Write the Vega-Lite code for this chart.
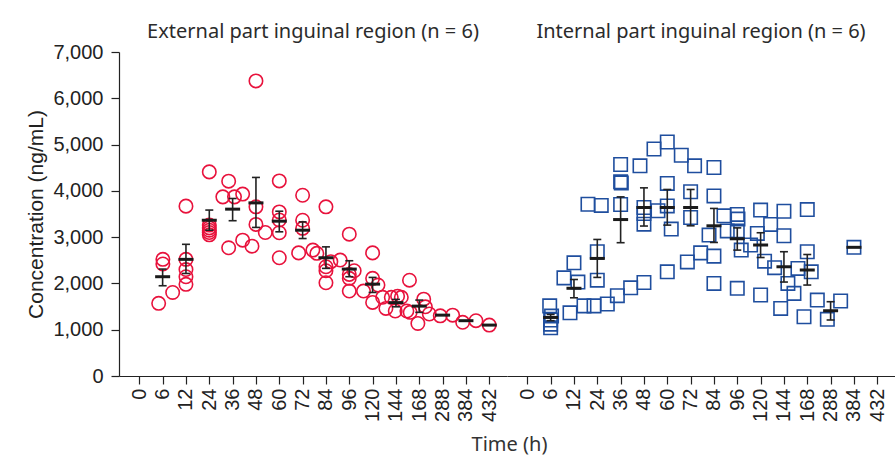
{
  "$schema": "https://vega.github.io/schema/vega-lite/v6.json",
  "padding": {"left": 25, "top": 22, "right": 0, "bottom": 0},
  "background": "white",
  "title": {"text": "Time (h)", "orient": "bottom", "anchor": "middle", "font": "Noto Sans", "fontSize": 20, "fontWeight": "normal", "color": "#333333", "offset": 14, "dx": 49},
  "data": {"values": [
    {"region": "External part inguinal region (n = 6)", "idx": 0.83, "conc": 1570},
    {"region": "External part inguinal region (n = 6)", "idx": 1.01, "conc": 2520},
    {"region": "External part inguinal region (n = 6)", "idx": 1.01, "conc": 2420},
    {"region": "External part inguinal region (n = 6)", "idx": 1.43, "conc": 1805},
    {"region": "External part inguinal region (n = 6)", "idx": 2.0, "conc": 3670},
    {"region": "External part inguinal region (n = 6)", "idx": 2.0, "conc": 2520},
    {"region": "External part inguinal region (n = 6)", "idx": 2.0, "conc": 2300},
    {"region": "External part inguinal region (n = 6)", "idx": 2.0, "conc": 2145},
    {"region": "External part inguinal region (n = 6)", "idx": 2.0, "conc": 1980},
    {"region": "External part inguinal region (n = 6)", "idx": 3.0, "conc": 4410},
    {"region": "External part inguinal region (n = 6)", "idx": 3.0, "conc": 3260},
    {"region": "External part inguinal region (n = 6)", "idx": 3.0, "conc": 3200},
    {"region": "External part inguinal region (n = 6)", "idx": 3.0, "conc": 3150},
    {"region": "External part inguinal region (n = 6)", "idx": 3.0, "conc": 3100},
    {"region": "External part inguinal region (n = 6)", "idx": 3.0, "conc": 3050},
    {"region": "External part inguinal region (n = 6)", "idx": 3.83, "conc": 4210},
    {"region": "External part inguinal region (n = 6)", "idx": 3.58, "conc": 3870},
    {"region": "External part inguinal region (n = 6)", "idx": 4.08, "conc": 3870},
    {"region": "External part inguinal region (n = 6)", "idx": 4.43, "conc": 3930},
    {"region": "External part inguinal region (n = 6)", "idx": 3.83, "conc": 2770},
    {"region": "External part inguinal region (n = 6)", "idx": 4.43, "conc": 2935},
    {"region": "External part inguinal region (n = 6)", "idx": 4.83, "conc": 2805},
    {"region": "External part inguinal region (n = 6)", "idx": 5.0, "conc": 6375},
    {"region": "External part inguinal region (n = 6)", "idx": 5.0, "conc": 3655},
    {"region": "External part inguinal region (n = 6)", "idx": 5.0, "conc": 3275},
    {"region": "External part inguinal region (n = 6)", "idx": 5.4, "conc": 3100},
    {"region": "External part inguinal region (n = 6)", "idx": 6.0, "conc": 4215},
    {"region": "External part inguinal region (n = 6)", "idx": 6.0, "conc": 3545},
    {"region": "External part inguinal region (n = 6)", "idx": 6.0, "conc": 3370},
    {"region": "External part inguinal region (n = 6)", "idx": 6.0, "conc": 3095},
    {"region": "External part inguinal region (n = 6)", "idx": 6.0, "conc": 2555},
    {"region": "External part inguinal region (n = 6)", "idx": 6.83, "conc": 2660},
    {"region": "External part inguinal region (n = 6)", "idx": 7.0, "conc": 3905},
    {"region": "External part inguinal region (n = 6)", "idx": 7.0, "conc": 3365},
    {"region": "External part inguinal region (n = 6)", "idx": 7.0, "conc": 3190},
    {"region": "External part inguinal region (n = 6)", "idx": 7.44, "conc": 2720},
    {"region": "External part inguinal region (n = 6)", "idx": 7.61, "conc": 2650},
    {"region": "External part inguinal region (n = 6)", "idx": 8.0, "conc": 3655},
    {"region": "External part inguinal region (n = 6)", "idx": 8.0, "conc": 2360},
    {"region": "External part inguinal region (n = 6)", "idx": 8.0, "conc": 2275},
    {"region": "External part inguinal region (n = 6)", "idx": 8.0, "conc": 2015},
    {"region": "External part inguinal region (n = 6)", "idx": 8.21, "conc": 2470},
    {"region": "External part inguinal region (n = 6)", "idx": 8.61, "conc": 2505},
    {"region": "External part inguinal region (n = 6)", "idx": 9.0, "conc": 3065},
    {"region": "External part inguinal region (n = 6)", "idx": 9.0, "conc": 2195},
    {"region": "External part inguinal region (n = 6)", "idx": 9.0, "conc": 2110},
    {"region": "External part inguinal region (n = 6)", "idx": 9.0, "conc": 1835},
    {"region": "External part inguinal region (n = 6)", "idx": 9.21, "conc": 2275},
    {"region": "External part inguinal region (n = 6)", "idx": 9.61, "conc": 1835},
    {"region": "External part inguinal region (n = 6)", "idx": 10.0, "conc": 2660},
    {"region": "External part inguinal region (n = 6)", "idx": 10.0, "conc": 2110},
    {"region": "External part inguinal region (n = 6)", "idx": 10.0, "conc": 1590},
    {"region": "External part inguinal region (n = 6)", "idx": 10.23, "conc": 1965},
    {"region": "External part inguinal region (n = 6)", "idx": 10.43, "conc": 1700},
    {"region": "External part inguinal region (n = 6)", "idx": 10.57, "conc": 1460},
    {"region": "External part inguinal region (n = 6)", "idx": 10.8, "conc": 1700},
    {"region": "External part inguinal region (n = 6)", "idx": 10.97, "conc": 1405},
    {"region": "External part inguinal region (n = 6)", "idx": 11.07, "conc": 1725},
    {"region": "External part inguinal region (n = 6)", "idx": 11.23, "conc": 1700},
    {"region": "External part inguinal region (n = 6)", "idx": 11.47, "conc": 1405},
    {"region": "External part inguinal region (n = 6)", "idx": 11.61, "conc": 1375},
    {"region": "External part inguinal region (n = 6)", "idx": 11.58, "conc": 2070},
    {"region": "External part inguinal region (n = 6)", "idx": 11.94, "conc": 1135},
    {"region": "External part inguinal region (n = 6)", "idx": 12.19, "conc": 1660},
    {"region": "External part inguinal region (n = 6)", "idx": 12.26, "conc": 1495},
    {"region": "External part inguinal region (n = 6)", "idx": 12.43, "conc": 1340},
    {"region": "External part inguinal region (n = 6)", "idx": 12.9, "conc": 1300},
    {"region": "External part inguinal region (n = 6)", "idx": 13.43, "conc": 1315},
    {"region": "External part inguinal region (n = 6)", "idx": 13.86, "conc": 1160},
    {"region": "External part inguinal region (n = 6)", "idx": 14.43, "conc": 1195},
    {"region": "External part inguinal region (n = 6)", "idx": 15.0, "conc": 1100},
    {"region": "Internal part inguinal region (n = 6)", "idx": 0.96, "conc": 1515},
    {"region": "Internal part inguinal region (n = 6)", "idx": 1.04, "conc": 1295},
    {"region": "Internal part inguinal region (n = 6)", "idx": 1.0, "conc": 1210},
    {"region": "Internal part inguinal region (n = 6)", "idx": 1.0, "conc": 1120},
    {"region": "Internal part inguinal region (n = 6)", "idx": 1.0, "conc": 1040},
    {"region": "Internal part inguinal region (n = 6)", "idx": 1.83, "conc": 1365},
    {"region": "Internal part inguinal region (n = 6)", "idx": 1.57, "conc": 2120},
    {"region": "Internal part inguinal region (n = 6)", "idx": 2.0, "conc": 2445},
    {"region": "Internal part inguinal region (n = 6)", "idx": 2.17, "conc": 2030},
    {"region": "Internal part inguinal region (n = 6)", "idx": 2.43, "conc": 1515},
    {"region": "Internal part inguinal region (n = 6)", "idx": 2.6, "conc": 3710},
    {"region": "Internal part inguinal region (n = 6)", "idx": 2.86, "conc": 1515},
    {"region": "Internal part inguinal region (n = 6)", "idx": 3.17, "conc": 3685},
    {"region": "Internal part inguinal region (n = 6)", "idx": 3.0, "conc": 2685},
    {"region": "Internal part inguinal region (n = 6)", "idx": 3.0, "conc": 2070},
    {"region": "Internal part inguinal region (n = 6)", "idx": 3.43, "conc": 1555},
    {"region": "Internal part inguinal region (n = 6)", "idx": 3.86, "conc": 1735},
    {"region": "Internal part inguinal region (n = 6)", "idx": 4.0, "conc": 4570},
    {"region": "Internal part inguinal region (n = 6)", "idx": 4.0, "conc": 4195},
    {"region": "Internal part inguinal region (n = 6)", "idx": 4.03, "conc": 4170},
    {"region": "Internal part inguinal region (n = 6)", "idx": 4.0, "conc": 3705},
    {"region": "Internal part inguinal region (n = 6)", "idx": 4.43, "conc": 1905},
    {"region": "Internal part inguinal region (n = 6)", "idx": 4.83, "conc": 4540},
    {"region": "Internal part inguinal region (n = 6)", "idx": 5.0, "conc": 3640},
    {"region": "Internal part inguinal region (n = 6)", "idx": 5.0, "conc": 3510},
    {"region": "Internal part inguinal region (n = 6)", "idx": 5.0, "conc": 3280},
    {"region": "Internal part inguinal region (n = 6)", "idx": 5.0, "conc": 2020},
    {"region": "Internal part inguinal region (n = 6)", "idx": 5.6, "conc": 3570},
    {"region": "Internal part inguinal region (n = 6)", "idx": 5.43, "conc": 4905},
    {"region": "Internal part inguinal region (n = 6)", "idx": 6.0, "conc": 5055},
    {"region": "Internal part inguinal region (n = 6)", "idx": 6.0, "conc": 4160},
    {"region": "Internal part inguinal region (n = 6)", "idx": 6.0, "conc": 3675},
    {"region": "Internal part inguinal region (n = 6)", "idx": 6.17, "conc": 3175},
    {"region": "Internal part inguinal region (n = 6)", "idx": 6.0, "conc": 2250},
    {"region": "Internal part inguinal region (n = 6)", "idx": 6.6, "conc": 4770},
    {"region": "Internal part inguinal region (n = 6)", "idx": 7.17, "conc": 4540},
    {"region": "Internal part inguinal region (n = 6)", "idx": 7.0, "conc": 3980},
    {"region": "Internal part inguinal region (n = 6)", "idx": 7.0, "conc": 3425},
    {"region": "Internal part inguinal region (n = 6)", "idx": 6.86, "conc": 2465},
    {"region": "Internal part inguinal region (n = 6)", "idx": 7.43, "conc": 2660},
    {"region": "Internal part inguinal region (n = 6)", "idx": 7.79, "conc": 3045},
    {"region": "Internal part inguinal region (n = 6)", "idx": 8.0, "conc": 4505},
    {"region": "Internal part inguinal region (n = 6)", "idx": 8.0, "conc": 3890},
    {"region": "Internal part inguinal region (n = 6)", "idx": 8.0, "conc": 2590},
    {"region": "Internal part inguinal region (n = 6)", "idx": 8.0, "conc": 2000},
    {"region": "Internal part inguinal region (n = 6)", "idx": 8.43, "conc": 3460},
    {"region": "Internal part inguinal region (n = 6)", "idx": 8.57, "conc": 3135},
    {"region": "Internal part inguinal region (n = 6)", "idx": 9.0, "conc": 3490},
    {"region": "Internal part inguinal region (n = 6)", "idx": 9.03, "conc": 3390},
    {"region": "Internal part inguinal region (n = 6)", "idx": 9.0, "conc": 3135},
    {"region": "Internal part inguinal region (n = 6)", "idx": 9.17, "conc": 2720},
    {"region": "Internal part inguinal region (n = 6)", "idx": 9.0, "conc": 1895},
    {"region": "Internal part inguinal region (n = 6)", "idx": 9.57, "conc": 2830},
    {"region": "Internal part inguinal region (n = 6)", "idx": 9.86, "conc": 3080},
    {"region": "Internal part inguinal region (n = 6)", "idx": 10.0, "conc": 3585},
    {"region": "Internal part inguinal region (n = 6)", "idx": 10.0, "conc": 1750},
    {"region": "Internal part inguinal region (n = 6)", "idx": 10.17, "conc": 2480},
    {"region": "Internal part inguinal region (n = 6)", "idx": 10.43, "conc": 3275},
    {"region": "Internal part inguinal region (n = 6)", "idx": 10.6, "conc": 2340},
    {"region": "Internal part inguinal region (n = 6)", "idx": 11.0, "conc": 3560},
    {"region": "Internal part inguinal region (n = 6)", "idx": 11.0, "conc": 3030},
    {"region": "Internal part inguinal region (n = 6)", "idx": 11.17, "conc": 2000},
    {"region": "Internal part inguinal region (n = 6)", "idx": 10.86, "conc": 1460},
    {"region": "Internal part inguinal region (n = 6)", "idx": 11.43, "conc": 1785},
    {"region": "Internal part inguinal region (n = 6)", "idx": 11.6, "conc": 2325},
    {"region": "Internal part inguinal region (n = 6)", "idx": 12.0, "conc": 3595},
    {"region": "Internal part inguinal region (n = 6)", "idx": 12.0, "conc": 2685},
    {"region": "Internal part inguinal region (n = 6)", "idx": 12.17, "conc": 2250},
    {"region": "Internal part inguinal region (n = 6)", "idx": 11.86, "conc": 1280},
    {"region": "Internal part inguinal region (n = 6)", "idx": 12.43, "conc": 1640},
    {"region": "Internal part inguinal region (n = 6)", "idx": 12.86, "conc": 1225},
    {"region": "Internal part inguinal region (n = 6)", "idx": 13.43, "conc": 1620},
    {"region": "Internal part inguinal region (n = 6)", "idx": 14.0, "conc": 2780},
    {"region": "External part inguinal region (n = 6)", "idx": 1, "mean": 2145, "lo": 1950, "hi": 2310},
    {"region": "External part inguinal region (n = 6)", "idx": 2, "mean": 2520, "lo": 2215, "hi": 2845},
    {"region": "External part inguinal region (n = 6)", "idx": 3, "mean": 3365, "lo": 3150, "hi": 3585},
    {"region": "External part inguinal region (n = 6)", "idx": 4, "mean": 3605, "lo": 3355, "hi": 3835},
    {"region": "External part inguinal region (n = 6)", "idx": 5, "mean": 3740, "lo": 3210, "hi": 4290},
    {"region": "External part inguinal region (n = 6)", "idx": 6, "mean": 3345, "lo": 3115, "hi": 3560},
    {"region": "External part inguinal region (n = 6)", "idx": 7, "mean": 3150, "lo": 2970, "hi": 3330},
    {"region": "External part inguinal region (n = 6)", "idx": 8, "mean": 2555, "lo": 2325, "hi": 2790},
    {"region": "External part inguinal region (n = 6)", "idx": 9, "mean": 2310, "lo": 2145, "hi": 2490},
    {"region": "External part inguinal region (n = 6)", "idx": 10, "mean": 1985, "lo": 1805, "hi": 2130},
    {"region": "External part inguinal region (n = 6)", "idx": 11, "mean": 1585, "lo": 1495, "hi": 1655},
    {"region": "External part inguinal region (n = 6)", "idx": 12, "mean": 1510, "lo": 1375, "hi": 1640},
    {"region": "External part inguinal region (n = 6)", "idx": 13, "mean": 1315},
    {"region": "External part inguinal region (n = 6)", "idx": 14, "mean": 1195},
    {"region": "External part inguinal region (n = 6)", "idx": 15, "mean": 1100},
    {"region": "Internal part inguinal region (n = 6)", "idx": 1, "mean": 1265, "lo": 1195, "hi": 1330},
    {"region": "Internal part inguinal region (n = 6)", "idx": 2, "mean": 1895, "lo": 1690, "hi": 2085},
    {"region": "Internal part inguinal region (n = 6)", "idx": 3, "mean": 2540, "lo": 2130, "hi": 2950},
    {"region": "Internal part inguinal region (n = 6)", "idx": 4, "mean": 3380, "lo": 2880, "hi": 3870},
    {"region": "Internal part inguinal region (n = 6)", "idx": 5, "mean": 3640, "lo": 3240, "hi": 4065},
    {"region": "Internal part inguinal region (n = 6)", "idx": 6, "mean": 3640, "lo": 3260, "hi": 4030},
    {"region": "Internal part inguinal region (n = 6)", "idx": 7, "mean": 3640, "lo": 3245, "hi": 4030},
    {"region": "Internal part inguinal region (n = 6)", "idx": 8, "mean": 3245, "lo": 2885, "hi": 3620},
    {"region": "Internal part inguinal region (n = 6)", "idx": 9, "mean": 2965, "lo": 2720, "hi": 3200},
    {"region": "Internal part inguinal region (n = 6)", "idx": 10, "mean": 2830, "lo": 2560, "hi": 3095},
    {"region": "Internal part inguinal region (n = 6)", "idx": 11, "mean": 2360, "lo": 2030, "hi": 2685},
    {"region": "Internal part inguinal region (n = 6)", "idx": 12, "mean": 2290, "lo": 1965, "hi": 2625},
    {"region": "Internal part inguinal region (n = 6)", "idx": 13, "mean": 1410, "lo": 1210, "hi": 1605},
    {"region": "Internal part inguinal region (n = 6)", "idx": 14, "mean": 2780}
  ]},
  "facet": {"column": {"field": "region", "type": "nominal", "title": null,
    "header": {"labelFont": "Noto Sans", "labelFontSize": 20, "labelColor": "#2b2b2b", "labelPadding": 10}}},
  "spacing": 0,
  "resolve": {"scale": {"x": "shared", "y": "shared"}},
  "spec": {
    "width": 388,
    "height": 324,
    "encoding": {
      "x": {"field": "idx", "type": "quantitative", "title": null,
        "scale": {"domain": [-0.87, 15.76], "nice": false, "zero": false},
        "axis": {"values": [0,1,2,3,4,5,6,7,8,9,10,11,12,13,14,15],
          "labelExpr": "['0','6','12','24','36','48','60','72','84','96','120','144','168','288','384','432'][datum.value]",
          "labelAngle": 270, "labelAlign": "right", "labelBaseline": "middle", "labelPadding": 4}}
    },
    "layer": [
      {"transform": [{"filter": "datum.conc != null"}],
       "mark": {"type": "point", "filled": false, "strokeWidth": 1.6, "size": 180, "opacity": 1},
       "encoding": {
         "y": {"field": "conc", "type": "quantitative", "title": "Concentration (ng/mL)",
           "scale": {"domain": [0, 7000], "nice": false},
           "axis": {"values": [0,1000,2000,3000,4000,5000,6000,7000], "format": ",.0f"}},
         "shape": {"field": "region", "type": "nominal", "scale": {"range": ["circle", "square"]}, "legend": null},
         "color": {"field": "region", "type": "nominal", "scale": {"range": ["#E8123C", "#1F4E9E"]}, "legend": null}
       }},
      {"transform": [{"filter": "datum.lo != null"}],
       "mark": {"type": "rule", "strokeWidth": 1.6, "color": "#222222"},
       "encoding": {"y": {"field": "lo", "type": "quantitative", "title": "Concentration (ng/mL)"}, "y2": {"field": "hi"}}},
      {"transform": [{"filter": "datum.lo != null"}],
       "mark": {"type": "tick", "orient": "horizontal", "size": 8, "thickness": 1.6, "color": "#222222", "opacity": 1},
       "encoding": {"y": {"field": "lo", "type": "quantitative", "title": "Concentration (ng/mL)"}}},
      {"transform": [{"filter": "datum.lo != null"}],
       "mark": {"type": "tick", "orient": "horizontal", "size": 8, "thickness": 1.6, "color": "#222222", "opacity": 1},
       "encoding": {"y": {"field": "hi", "type": "quantitative", "title": "Concentration (ng/mL)"}}},
      {"transform": [{"filter": "datum.mean != null"}],
       "mark": {"type": "tick", "orient": "horizontal", "size": 15, "thickness": 3, "color": "#1a1a1a", "opacity": 1},
       "encoding": {"y": {"field": "mean", "type": "quantitative", "title": "Concentration (ng/mL)"}}}
    ]
  },
  "config": {
    "view": {"stroke": null},
    "axis": {"grid": false, "domainColor": "#222222", "tickColor": "#222222", "tickSize": 8, "domainWidth": 1.2, "tickWidth": 1.2,
      "labelFont": "Liberation Sans", "labelFontSize": 20, "labelColor": "#222222",
      "titleFont": "Liberation Sans", "titleFontSize": 21, "titleFontWeight": "normal", "titleColor": "#222222"},
    "axisY": {"labelPadding": 8, "titlePadding": 6}
  }
}
